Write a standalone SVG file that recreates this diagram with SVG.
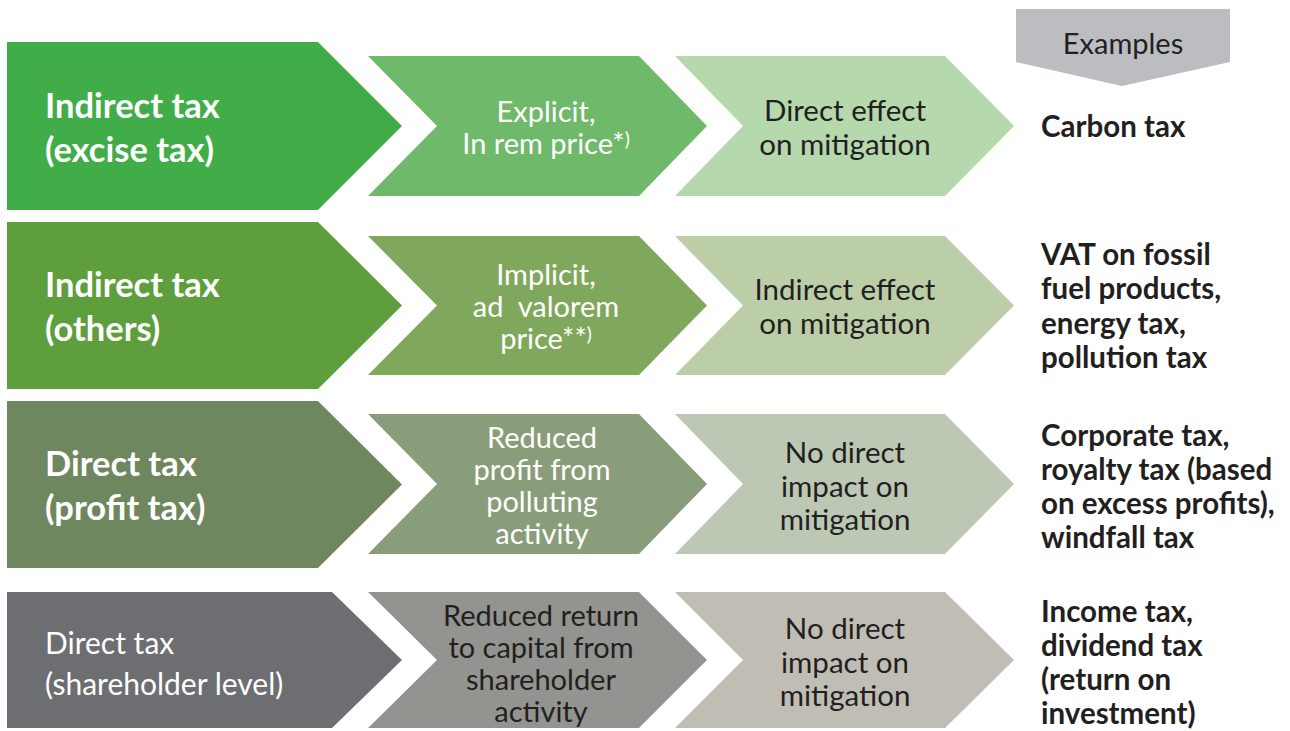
<svg xmlns="http://www.w3.org/2000/svg" width="1290" height="731" viewBox="0 0 1290 731">
  <style>
    text { font-family: Lato, "Liberation Sans", sans-serif; }
    .lead { font-size: 34.5px; font-weight: bold; fill: #ffffff; }
    .lead-r { font-size: 30px; fill: #ffffff; }
    .mid { font-size: 29px; text-anchor: middle; fill: #ffffff; }
    .mid-d { font-size: 29px; text-anchor: middle; fill: #231f20; }
    .eff { font-size: 29.5px; text-anchor: middle; fill: #231f20; }
    .ex { font-size: 29.5px; font-weight: bold; fill: #231f20; }
    .hdr { font-size: 29px; text-anchor: middle; fill: #231f20; }
    .sup { font-size: 19px; }
  </style>

  <!-- column header -->
  <g id="examples-header">
    <path d="M1016,9 H1230 V62 L1122,86 L1016,62 Z" fill="#bcbdc1"/>
    <text class="hdr" x="1123" y="54">Examples</text>
  </g>

  <!-- row 1: excise tax -->
  <g id="row1-type">
    <path d="M7,42 H318 L402,126 L318,210 H7 Z" fill="#41ad49"/>
    <text class="lead" x="45" y="118">Indirect tax</text>
    <text class="lead" x="45" y="162">(excise tax)</text>
  </g>
  <g id="row1-price">
    <path d="M368,56 H639 L707,126 L639,196 H368 L437,126 Z" fill="#6fb96a"/>
    <text class="mid" x="546" y="122">Explicit,</text>
    <text class="mid" x="546" y="154">In rem price*<tspan class="sup" dy="-8">)</tspan></text>
  </g>
  <g id="row1-effect">
    <path d="M675,56 H945 L1014,126 L945,196 H675 L743,126 Z" fill="#b5d8ac"/>
    <text class="eff" x="845" y="121">Direct effect</text>
    <text class="eff" x="845" y="155">on mitigation</text>
  </g>
  <g id="row1-examples">
    <text class="ex" x="1041" y="137">Carbon tax</text>
  </g>

  <!-- row 2: other indirect taxes -->
  <g id="row2-type">
    <path d="M7,222 H318 L402,305.5 L318,389 H7 Z" fill="#5e9e3c"/>
    <text class="lead" x="45" y="297">Indirect tax</text>
    <text class="lead" x="45" y="341">(others)</text>
  </g>
  <g id="row2-price">
    <path d="M368,236 H639 L707,305.5 L639,375 H368 L437,305.5 Z" fill="#80a85c"/>
    <text class="mid" x="546" y="285">Implicit,</text>
    <text class="mid" x="546" y="317">ad&#160; valorem</text>
    <text class="mid" x="546" y="349">price**<tspan class="sup" dy="-8">)</tspan></text>
  </g>
  <g id="row2-effect">
    <path d="M675,236 H945 L1014,305.5 L945,375 H675 L743,305.5 Z" fill="#bccea7"/>
    <text class="eff" x="845" y="300">Indirect effect</text>
    <text class="eff" x="845" y="334">on mitigation</text>
  </g>
  <g id="row2-examples">
    <text class="ex" x="1041" y="265">VAT on fossil</text>
    <text class="ex" x="1041" y="299">fuel products,</text>
    <text class="ex" x="1041" y="334">energy tax,</text>
    <text class="ex" x="1041" y="368">pollution tax</text>
  </g>

  <!-- row 3: profit tax -->
  <g id="row3-type">
    <path d="M7,401 H318 L402,484.5 L318,568 H7 Z" fill="#6e875e"/>
    <text class="lead" x="45" y="476">Direct tax</text>
    <text class="lead" x="45" y="520">(profit tax)</text>
  </g>
  <g id="row3-price">
    <path d="M368,414 H639 L707,484 L639,554 H368 L437,484 Z" fill="#8a9d7a"/>
    <text class="mid" x="542" y="448">Reduced</text>
    <text class="mid" x="542" y="480">profit from</text>
    <text class="mid" x="542" y="512">polluting</text>
    <text class="mid" x="542" y="544">activity</text>
  </g>
  <g id="row3-effect">
    <path d="M675,414 H945 L1014,484 L945,554 H675 L743,484 Z" fill="#bcc8b4"/>
    <text class="eff" x="845" y="463">No direct</text>
    <text class="eff" x="845" y="497">impact on</text>
    <text class="eff" x="845" y="530">mitigation</text>
  </g>
  <g id="row3-examples">
    <text class="ex" x="1041" y="446">Corporate tax,</text>
    <text class="ex" x="1041" y="480">royalty tax (based</text>
    <text class="ex" x="1041" y="514">on excess profits),</text>
    <text class="ex" x="1041" y="548">windfall tax</text>
  </g>

  <!-- row 4: shareholder level -->
  <g id="row4-type">
    <path d="M7,592 H332 L402,660 L332,728 H7 Z" fill="#6d6e71"/>
    <text class="lead-r" x="45" y="654">Direct tax</text>
    <text class="lead-r" x="45" y="695">(shareholder level)</text>
  </g>
  <g id="row4-price">
    <path d="M368,592 H639 L707,660 L639,728 H368 L437,660 Z" fill="#939390"/>
    <text class="mid-d" x="541" y="626">Reduced return</text>
    <text class="mid-d" x="541" y="658">to capital from</text>
    <text class="mid-d" x="541" y="690">shareholder</text>
    <text class="mid-d" x="541" y="722">activity</text>
  </g>
  <g id="row4-effect">
    <path d="M675,592 H945 L1014,660 L945,728 H675 L743,660 Z" fill="#c0bdb5"/>
    <text class="eff" x="845" y="639">No direct</text>
    <text class="eff" x="845" y="673">impact on</text>
    <text class="eff" x="845" y="706">mitigation</text>
  </g>
  <g id="row4-examples">
    <text class="ex" x="1041" y="622">Income tax,</text>
    <text class="ex" x="1041" y="656">dividend tax</text>
    <text class="ex" x="1041" y="690">(return on</text>
    <text class="ex" x="1041" y="724">investment)</text>
  </g>

  <!-- the chevrons carry the flow themselves; no separate connector lines -->
  <g id="connectors"/>
</svg>
